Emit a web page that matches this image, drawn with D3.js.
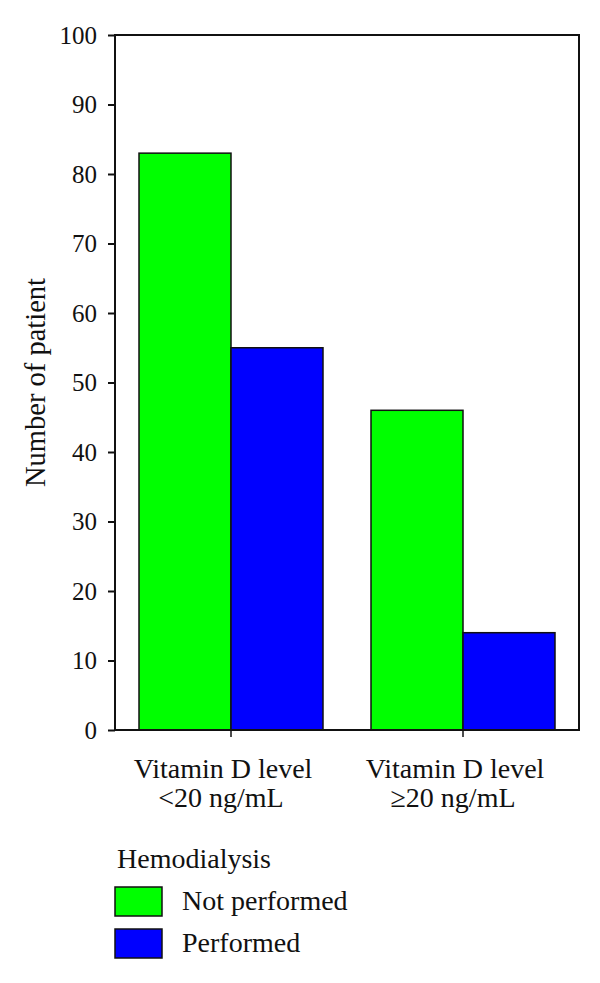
<!DOCTYPE html>
<html><head><meta charset="utf-8">
<script src="https://cdn.jsdelivr.net/npm/d3@7"></script>
<style>body{margin:0;background:#fff} svg text{font-family:"Liberation Serif","DejaVu Serif",serif;}</style>
</head><body>
<script>
const categories = [["Vitamin D level", "<20 ng/mL"], ["Vitamin D level", "\u226520 ng/mL"]];
const seriesNames = ["Not performed", "Performed"];
const notPerformed = [83, 46];
const performed = [55, 14];
const yTicks = [0,10,20,30,40,50,60,70,80,90,100];
const colors = ["#00ff00", "#0000ff"];
const legendTitle = "Hemodialysis";
const yLabel = "Number of patient";

const W = 600, H = 983;
const m = {left:115, right:21, top:35, bottom:253};
const svg = d3.select("body").append("svg").attr("width", W).attr("height", H);

const x = d3.scaleBand().domain(d3.range(categories.length))
  .range([m.left, W - m.right]).paddingInner(48/232).paddingOuter(24/232);
const xs = d3.scaleBand().domain(d3.range(seriesNames.length)).range([0, x.bandwidth()]);
const y = d3.scaleLinear().domain([0,100]).range([H - m.bottom, m.top]);

const seriesVals = [notPerformed, performed];
const g = svg.append("g");
categories.forEach((c, i) => {
  seriesVals.forEach((vals, s) => {
    g.append("rect")
      .attr("x", x(i) + xs(s)).attr("y", y(vals[i]))
      .attr("width", xs.bandwidth()).attr("height", y(0) - y(vals[i]))
      .attr("fill", colors[s]).attr("stroke", "#111").attr("stroke-width", 1.5);
  });
});

svg.append("rect").attr("x", m.left).attr("y", m.top)
  .attr("width", W - m.left - m.right).attr("height", y(0) - m.top)
  .attr("fill", "none").attr("stroke", "#111").attr("stroke-width", 2);

const yAxis = svg.append("g").attr("transform", `translate(${m.left},0)`)
  .call(d3.axisLeft(y).tickValues(yTicks).tickSize(7).tickPadding(11));
yAxis.attr("font-family", null);
yAxis.select(".domain").remove();
yAxis.selectAll("line").attr("stroke", "#111").attr("stroke-width", 2);
yAxis.selectAll("text").attr("font-size", 25).attr("fill", "#111");

categories.forEach((c, i) => {
  const cx = x(i) + x.bandwidth()/2;
  svg.append("line").attr("x1", cx).attr("x2", cx).attr("y1", y(0)).attr("y2", y(0)+7)
    .attr("stroke", "#111").attr("stroke-width", 1.5);
  c.forEach((line, k) => {
    svg.append("text").attr("x", cx - (k ? 10 : 8)).attr("y", 778 + k*29)
      .attr("text-anchor", "middle").attr("font-size", 28).attr("fill", "#111").text(line);
  });
});

svg.append("text").attr("transform", `translate(45,${(y(0)+m.top)/2}) rotate(-90)`)
  .attr("text-anchor", "middle").attr("font-size", 28.5).attr("fill", "#111").text(yLabel);

svg.append("text").attr("x", 117).attr("y", 868).attr("font-size", 28).attr("fill", "#111").text(legendTitle);
seriesNames.forEach((n, s) => {
  svg.append("rect").attr("x", 115).attr("y", 887 + s*42).attr("width", 47).attr("height", 29)
    .attr("fill", colors[s]).attr("stroke", "#111").attr("stroke-width", 1.5);
  svg.append("text").attr("x", 182).attr("y", 910 + s*42).attr("font-size", 28).attr("fill", "#111").text(n);
});
</script>
</body></html>
